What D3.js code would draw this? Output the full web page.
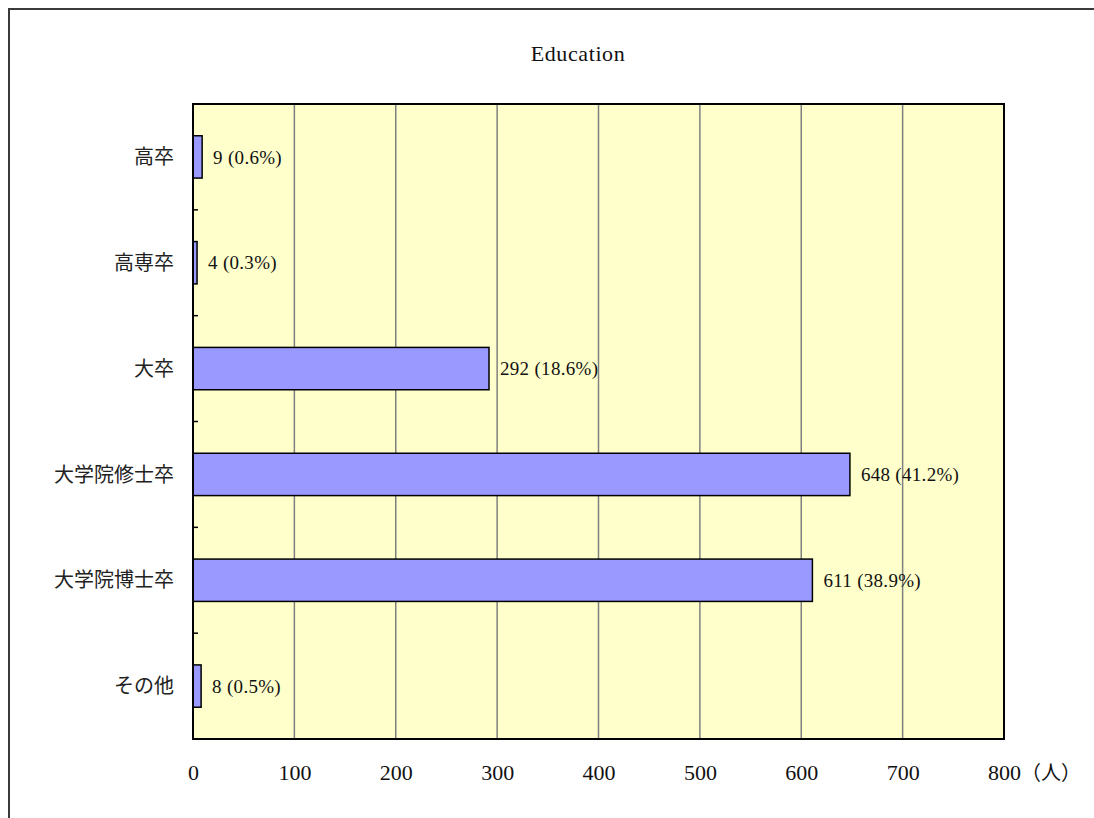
<!DOCTYPE html>
<html>
<head>
<meta charset="utf-8">
<script src="https://cdn.jsdelivr.net/npm/d3@7"></script>
<style>
  html, body { margin: 0; padding: 0; background: #fff; }
  svg { display: block; }
</style>
</head>
<body>
<svg id="chart" width="1094" height="818"></svg>
<script>
// Education breakdown (number of people)
const categories = ["高卒", "高専卒", "大卒", "大学院修士卒", "大学院博士卒", "その他"];
const counts = [9, 4, 292, 648, 611, 8];
const xTicks = [0, 100, 200, 300, 400, 500, 600, 700, 800];
const titleText = "Education";
const unitText = "（人）";

const total = d3.sum(counts);

const svg = d3.select("#chart");
const plot = { left: 193, top: 104, right: 1004, bottom: 739 };

// outer chart frame (runs past the right and bottom edges)
svg.append("rect")
  .attr("x", 9).attr("y", 9)
  .attr("width", 1200).attr("height", 1000)
  .attr("fill", "#fff")
  .attr("stroke", "#3a3a3a")
  .attr("stroke-width", 2);

const x = d3.scaleLinear().domain([0, 800]).range([plot.left, plot.right]);
const y = d3.scaleBand().domain(categories).range([plot.top, plot.bottom]).paddingInner(0.6).paddingOuter(0.3);
const yBand = d3.scaleBand().domain(categories).range([plot.top, plot.bottom]);

// plot background
svg.append("rect")
  .attr("x", plot.left).attr("y", plot.top)
  .attr("width", plot.right - plot.left).attr("height", plot.bottom - plot.top)
  .attr("fill", "#FFFFCC");

// vertical gridlines
svg.append("g")
  .selectAll("line")
  .data(xTicks.filter(t => t > 0 && t < 800))
  .join("line")
  .attr("x1", d => x(d)).attr("x2", d => x(d))
  .attr("y1", plot.top).attr("y2", plot.bottom)
  .attr("stroke", "#808080")
  .attr("stroke-width", 1.5);

// bars
svg.append("g")
  .selectAll("rect")
  .data(categories)
  .join("rect")
  .attr("x", x(0))
  .attr("y", (d) => y(d))
  .attr("width", (d, i) => x(counts[i]) - x(0))
  .attr("height", y.bandwidth())
  .attr("fill", "#9999FF")
  .attr("stroke", "#000")
  .attr("stroke-width", 1.5);

// value labels
svg.append("g")
  .selectAll("text")
  .data(categories)
  .join("text")
  .attr("x", (d, i) => x(counts[i]) + 11)
  .attr("y", d => y(d) + y.bandwidth() / 2)
  .attr("dy", "0.35em")
  .attr("font-family", "'Liberation Serif', 'Times New Roman', serif")
  .attr("font-size", 19)
  .attr("letter-spacing", 0.3)
  .attr("fill", "#111")
  .text((d, i) => `${counts[i]} (${(counts[i] / total * 100).toFixed(1)}%)`);

// plot border
svg.append("rect")
  .attr("x", plot.left).attr("y", plot.top)
  .attr("width", plot.right - plot.left).attr("height", plot.bottom - plot.top)
  .attr("fill", "none")
  .attr("stroke", "#000")
  .attr("stroke-width", 2);

// inside ticks at category band boundaries
svg.append("g")
  .selectAll("line")
  .data(categories.slice(1))
  .join("line")
  .attr("x1", plot.left).attr("x2", plot.left + 5)
  .attr("y1", d => yBand(d)).attr("y2", d => yBand(d))
  .attr("stroke", "#000")
  .attr("stroke-width", 1.5);

// category labels
svg.append("g")
  .selectAll("text")
  .data(categories)
  .join("text")
  .attr("x", 174)
  .attr("y", d => yBand(d) + yBand.bandwidth() / 2)
  .attr("dy", "0.36em")
  .attr("text-anchor", "end")
  .attr("font-family", "'Noto Sans CJK JP', 'Noto Sans', sans-serif")
  .attr("font-size", 20)
  .attr("fill", "#222")
  .text(d => d);

// x axis tick labels
const xAxis = d3.axisBottom(x).tickValues(xTicks).tickSize(0).tickPadding(0).tickFormat(d3.format("d"));
const gx = svg.append("g")
  .attr("transform", `translate(0,${plot.bottom})`)
  .call(xAxis);
gx.select(".domain").remove();
gx.selectAll("text")
  .attr("y", 41)
  .attr("dy", 0)
  .attr("font-family", "'Liberation Serif', 'Times New Roman', serif")
  .attr("font-size", 22)
  .attr("fill", "#111");

// unit label next to the last tick
svg.append("text")
  .attr("x", x(800) + 17)
  .attr("y", plot.bottom + 41)
  .attr("font-family", "'Noto Sans CJK JP', sans-serif")
  .attr("font-size", 20)
  .attr("fill", "#111")
  .text(unitText);

// title
svg.append("text")
  .attr("x", 578)
  .attr("y", 61)
  .attr("text-anchor", "middle")
  .attr("font-family", "'Liberation Serif', 'Times New Roman', serif")
  .attr("font-size", 22)
  .attr("letter-spacing", 0.6)
  .attr("fill", "#111")
  .text(titleText);
</script>
</body>
</html>
